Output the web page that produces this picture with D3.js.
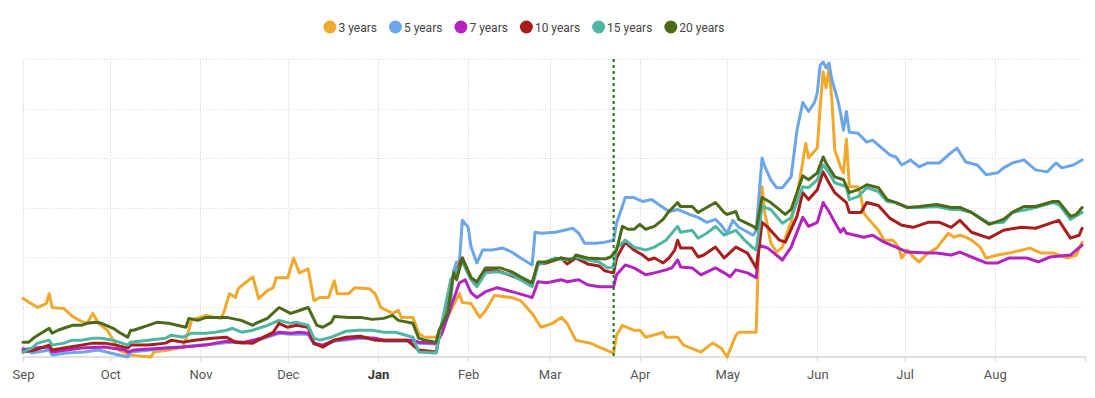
<!DOCTYPE html>
<html>
<head>
<meta charset="utf-8">
<script src="https://cdn.jsdelivr.net/npm/d3@7"></script>
<style>
  html, body { margin: 0; padding: 0; background: #ffffff; }
  svg { display: block; font-family: Roboto, "Open Sans", "Liberation Sans", sans-serif; }
</style>
</head>
<body>
<svg id="chart" width="1095" height="398"></svg>
<script>
// ---------- DATA (day = days since 1 Sep 2022, value = index level) ----------
const startDate = "2022-09-01";
const endDate = "2023-09-01";
const seriesNames = ["3 years", "5 years", "7 years", "10 years", "15 years", "20 years"];
const seriesColors = ["#efa92c", "#6ca6e6", "#b323be", "#a81d1d", "#4fb6a1", "#4c6b1a"];
const monthLabels = ["Sep", "Oct", "Nov", "Dec", "Jan", "Feb", "Mar", "Apr", "May", "Jun", "Jul", "Aug"];
const boldLabels = ["Jan"];
const yTickValues = [0, 50, 100, 150, 200, 250, 300];
const markerDate = "2023-03-23";

const y3 = [[0,58],[5,49],[8,53],[9,63],[10,49],[14,48],[17,40],[20,35],[22,33],[24,43],[26,33],[29,26],[31,16],[33,6],[37,1],[40,0],[44,-1],[45,4],[50,6],[55,9],[57,26],[58,37],[61,39],[63,41],[66,39],[68,38],[69,44],[71,63],[73,59],[74,68],[76,73],[79,80],[81,58],[84,66],[86,69],[87,79],[91,79],[93,99],[95,84],[98,88],[100,56],[102,59],[105,59],[107,76],[108,63],[112,63],[114,69],[119,68],[121,63],[123,49],[127,43],[129,46],[130,39],[134,39],[136,23],[138,19],[142,19],[144,29],[147,46],[150,63],[151,54],[154,53],[157,39],[159,46],[162,61],[168,59],[171,56],[175,43],[178,29],[182,33],[185,39],[187,33],[190,16],[195,13],[198,9],[203,3],[204,21],[206,31],[210,26],[212,26],[214,19],[219,23],[220,24],[221,19],[225,19],[227,11],[233,4],[237,13],[240,8],[242,-1],[245,21],[246,24],[252,24],[253,126],[254,171],[255,144],[256,130],[257,114],[259,105],[261,110],[263,128],[264,135],[267,178],[269,215],[270,200],[273,210],[274,252],[275,287],[276,271],[277,291],[278,259],[279,208],[281,191],[282,185],[283,219],[284,171],[287,171],[288,161],[289,144],[291,137],[294,127],[296,117],[299,117],[301,110],[302,99],[304,107],[306,100],[308,95],[311,104],[314,109],[318,124],[320,120],[322,122],[324,120],[326,117],[329,110],[331,99],[335,102],[339,104],[346,109],[350,104],[354,104],[359,99],[362,102],[364,115]];

const y5 = [[0,8],[3,3],[9,6],[10,1],[15,3],[21,4],[26,6],[30,3],[36,-1],[37,4],[44,6],[49,8],[55,9],[61,11],[66,12],[71,14],[76,13],[82,17],[88,23],[92,22],[98,22],[100,12],[103,10],[107,15],[116,18],[121,17],[124,15],[128,15],[132,15],[136,13],[142,12],[144,26],[147,56],[148,86],[149,95],[150,95],[151,137],[153,130],[154,110],[156,94],[158,107],[161,107],[165,109],[168,105],[171,99],[175,92],[176,125],[178,124],[183,125],[186,127],[189,129],[191,124],[193,114],[197,114],[200,115],[203,117],[204,134],[207,160],[210,160],[213,156],[216,158],[220,150],[222,146],[225,148],[229,143],[232,140],[235,135],[238,138],[240,132],[242,124],[244,137],[246,130],[251,122],[252,127],[254,200],[255,191],[257,178],[259,170],[261,170],[264,181],[266,228],[268,256],[270,247],[272,256],[273,266],[274,294],[275,297],[276,291],[277,296],[278,279],[280,259],[281,245],[282,228],[283,247],[284,226],[287,225],[290,216],[292,218],[296,208],[298,203],[300,201],[302,193],[305,198],[308,191],[311,195],[315,195],[318,203],[321,210],[324,196],[328,193],[331,183],[335,185],[337,190],[340,195],[344,198],[348,188],[352,186],[355,195],[357,190],[361,193],[364,198]];

const y7 = [[0,6],[4,8],[9,9],[10,4],[20,8],[28,9],[35,6],[36,4],[38,6],[49,8],[55,9],[63,11],[66,13],[70,15],[76,14],[82,18],[88,24],[92,23],[95,24],[98,23],[100,13],[103,11],[107,16],[116,19],[121,18],[124,16],[128,16],[134,16],[136,14],[142,13],[144,23],[147,49],[150,74],[152,77],[154,64],[156,59],[159,65],[163,69],[168,65],[174,60],[175,59],[177,75],[180,74],[185,77],[187,75],[191,77],[194,72],[198,70],[203,70],[204,82],[207,92],[210,89],[214,82],[217,84],[221,87],[223,89],[225,97],[226,90],[230,89],[233,82],[238,89],[241,84],[243,80],[245,87],[249,84],[252,79],[253,112],[256,109],[261,97],[264,110],[268,140],[270,131],[273,135],[275,155],[277,146],[279,135],[281,125],[282,129],[283,124],[289,120],[292,122],[296,115],[300,110],[304,105],[311,104],[314,104],[319,102],[322,105],[326,100],[331,94],[335,94],[339,99],[345,99],[349,95],[353,100],[360,102],[364,112]];

const y10 = [[0,4],[4,6],[9,11],[10,6],[14,8],[20,11],[24,13],[28,13],[32,11],[36,8],[37,11],[43,11],[49,13],[51,16],[55,14],[59,16],[65,18],[70,19],[73,14],[79,13],[82,18],[86,24],[88,33],[91,29],[94,31],[98,29],[100,13],[103,9],[107,16],[111,19],[116,20],[121,16],[128,16],[132,16],[136,6],[142,4],[143,19],[147,73],[151,99],[154,79],[156,74],[159,86],[163,86],[168,81],[175,73],[177,93],[180,94],[185,99],[187,93],[190,99],[194,93],[198,91],[200,86],[203,84],[204,99],[207,115],[210,107],[213,102],[215,97],[217,99],[220,94],[222,99],[224,107],[225,117],[226,109],[230,109],[232,100],[234,102],[238,110],[241,99],[245,110],[249,104],[252,89],[253,110],[254,135],[256,130],[260,117],[262,115],[266,141],[268,165],[270,158],[273,168],[275,186],[277,175],[279,165],[283,155],[284,145],[288,145],[290,155],[294,152],[298,139],[302,132],[306,130],[311,135],[315,135],[319,130],[322,137],[326,125],[332,119],[337,127],[343,130],[348,129],[353,134],[356,137],[360,119],[363,122],[364,129]];

const y15 = [[0,4],[3,8],[5,13],[9,16],[10,11],[14,13],[17,16],[20,16],[24,18],[27,18],[31,16],[36,11],[37,14],[43,16],[49,18],[51,21],[55,19],[58,23],[63,23],[66,24],[70,26],[72,28],[75,24],[79,26],[84,31],[88,36],[92,33],[94,34],[98,31],[100,18],[102,16],[106,19],[111,25],[115,26],[120,26],[124,24],[128,24],[134,19],[136,4],[142,3],[143,19],[147,77],[151,95],[154,77],[156,70],[159,84],[163,85],[168,82],[175,70],[177,92],[183,99],[187,97],[190,100],[194,97],[198,95],[201,89],[203,90],[204,109],[207,117],[210,110],[214,107],[217,110],[221,117],[225,131],[226,125],[230,127],[232,119],[235,124],[238,131],[241,122],[245,127],[248,117],[251,109],[252,107],[254,151],[257,148],[261,134],[264,140],[268,171],[270,170],[273,178],[275,193],[277,185],[279,175],[283,171],[284,158],[287,161],[290,170],[294,166],[297,156],[300,155],[304,150],[308,150],[314,151],[319,148],[322,148],[326,145],[332,134],[337,135],[340,145],[345,148],[348,150],[354,155],[356,153],[360,138],[364,145]];

const y20 = [[0,14],[2,14],[4,19],[9,28],[10,23],[12,26],[15,29],[17,31],[20,31],[22,33],[25,34],[27,33],[31,28],[33,24],[36,19],[37,26],[38,26],[43,31],[46,34],[50,33],[53,31],[56,29],[57,38],[60,36],[63,39],[65,39],[70,39],[75,36],[79,31],[80,33],[84,38],[88,49],[92,43],[95,46],[98,49],[99,43],[101,31],[103,29],[106,34],[107,40],[112,39],[116,39],[120,37],[124,38],[127,41],[129,36],[134,33],[136,18],[138,16],[142,14],[143,26],[146,43],[148,84],[149,77],[151,99],[154,79],[156,75],[159,89],[164,89],[168,85],[171,80],[175,74],[177,95],[180,95],[185,99],[189,97],[190,102],[194,99],[200,98],[202,100],[204,107],[206,131],[208,128],[210,128],[212,133],[214,128],[217,131],[220,138],[222,146],[225,155],[226,151],[230,151],[232,145],[235,150],[238,155],[241,145],[242,143],[245,146],[246,138],[251,131],[252,128],[254,160],[257,155],[262,143],[264,148],[268,182],[270,178],[273,185],[275,201],[276,195],[279,181],[282,178],[284,165],[287,168],[290,173],[294,170],[297,158],[300,155],[304,150],[308,151],[314,153],[319,150],[322,150],[326,145],[332,133],[337,138],[340,145],[344,151],[348,151],[354,156],[356,156],[360,141],[362,143],[364,150]];

const seriesValues = [y3, y5, y7, y10, y15, y20];

// ---------- CHART ----------
const svg = d3.select("#chart");
const parse = d3.timeParse("%Y-%m-%d");
const t0 = parse(startDate), t1 = parse(endDate);

const x = d3.scaleTime().domain([t0, t1]).range([23, 1085]);
const y = d3.scaleLinear().domain([0, 300]).range([356, 59]);

// horizontal gridlines
svg.append("g").selectAll("line")
  .data(yTickValues.filter(v => v > 0))
  .join("line")
  .attr("x1", x(t0)).attr("x2", x(t1))
  .attr("y1", d => Math.round(y(d)) + 0.5).attr("y2", d => Math.round(y(d)) + 0.5)
  .attr("stroke", "#d6d6d6").attr("stroke-width", 1).attr("stroke-dasharray", "1,2");

// vertical month gridlines
const months = d3.timeMonth.range(t0, t1);
svg.append("g").selectAll("line")
  .data(months)
  .join("line")
  .attr("x1", d => Math.round(x(d)) + 0.5).attr("x2", d => Math.round(x(d)) + 0.5)
  .attr("y1", y(300)).attr("y2", y(0))
  .attr("stroke", "#e4e4e4").attr("stroke-width", 1).attr("stroke-dasharray", "2,1");

// x axis
const xAxis = d3.axisBottom(x)
  .tickValues(months)
  .tickSize(5)
  .tickPadding(8)
  .tickFormat((d, i) => monthLabels[i]);
const gx = svg.append("g").attr("transform", `translate(0,${Math.round(y(0)) + 0.5})`).call(xAxis);
gx.select(".domain").attr("stroke", "#d6d6d6").attr("stroke-width", 1.5);
gx.selectAll(".tick line").attr("stroke", "#d6d6d6");
const isBold = d => boldLabels.includes(monthLabels[months.findIndex(m => +m === +d)]);
gx.selectAll(".tick text")
  .attr("fill", d => isBold(d) ? "#333" : "#555")
  .attr("font-size", 13)
  .attr("font-weight", d => isBold(d) ? "bold" : "normal")
  .attr("font-family", "Roboto, 'Open Sans', sans-serif");

// lines
const line = d3.line()
  .x(d => x(d3.timeDay.offset(t0, d[0])))
  .y(d => y(d[1]))
  .curve(d3.curveLinear);

svg.append("g").selectAll("path")
  .data(seriesValues)
  .join("path")
  .attr("d", line)
  .attr("fill", "none")
  .attr("stroke", (d, i) => seriesColors[i])
  .attr("stroke-width", 3)
  .attr("stroke-linejoin", "round")
  .attr("stroke-linecap", "round");

// marker line
const md = parse(markerDate);
svg.append("line")
  .attr("x1", x(md)).attr("x2", x(md))
  .attr("y1", y(300)).attr("y2", y(0))
  .attr("stroke", "#137a13").attr("stroke-width", 2).attr("stroke-dasharray", "3,3");

// legend
const legend = svg.append("g");
let cx = 0;
const items = legend.selectAll("g").data(seriesNames).join("g");
items.append("circle").attr("r", 6.5).attr("cx", 6.5).attr("cy", 0)
  .attr("fill", (d, i) => seriesColors[i]);
items.append("text").text(d => d)
  .attr("x", 15).attr("y", 4.5)
  .attr("font-size", 12).attr("fill", "#444")
  .attr("font-family", "Roboto, 'Open Sans', sans-serif");
items.each(function () {
  const g = d3.select(this);
  const w = g.select("text").node().getComputedTextLength();
  g.attr("transform", `translate(${cx},0)`);
  cx += 15 + w + 12;
});
const totalW = cx - 12;
legend.attr("transform", `translate(${(321 + 727) / 2 - totalW / 2},27)`);
</script>
</body>
</html>
